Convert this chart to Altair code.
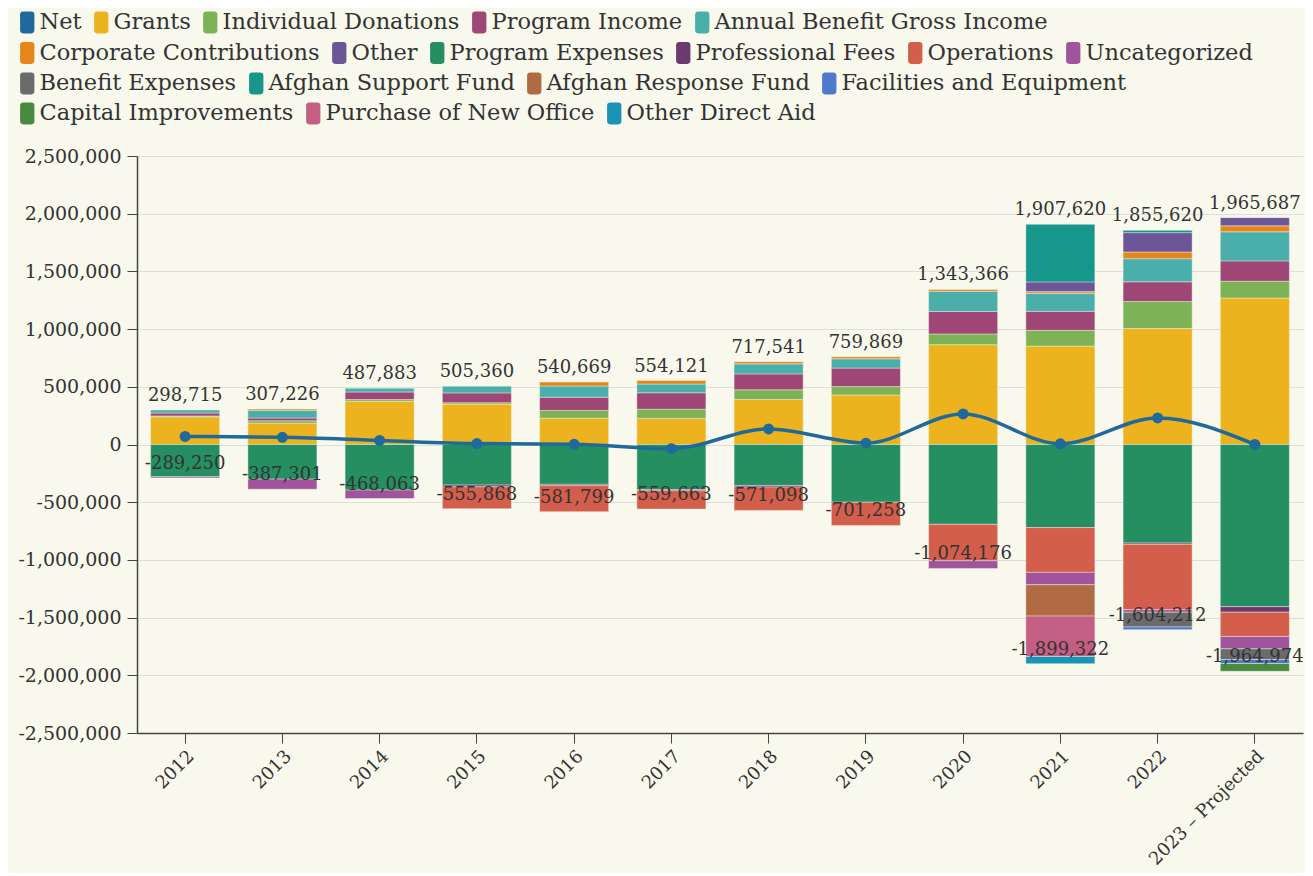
import altair as alt
import pandas as pd

years = ["2012", "2013", "2014", "2015", "2016", "2017", "2018", "2019",
         "2020", "2021", "2022", "2023 – Projected"]

categories = ["Net", "Grants", "Individual Donations", "Program Income",
              "Annual Benefit Gross Income", "Corporate Contributions", "Other",
              "Program Expenses", "Professional Fees", "Operations", "Uncategorized",
              "Benefit Expenses", "Afghan Support Fund", "Afghan Response Fund",
              "Facilities and Equipment", "Capital Improvements",
              "Purchase of New Office", "Other Direct Aid"]

colors = ["#1f6a9a", "#ecb31f", "#7db356", "#9e4676", "#4aaeab", "#e5861b",
          "#6c5698", "#268f62", "#6b3a6e", "#d35e4b", "#a0549c", "#6b6b6b",
          "#17968c", "#b06b44", "#4f7acb", "#4a8a3e", "#c45e82", "#1a93b6"]

# income (positive)
grants = [240000, 185000, 375000, 350000, 228000, 226000, 390000, 430000, 865000, 853000, 1005000, 1270000]
individual_donations = [8000, 20000, 15000, 12000, 67000, 80000, 84000, 72000, 93000, 136000, 234000, 145000]
program_income = [25000, 25000, 65000, 85000, 115000, 142000, 138000, 160000, 195000, 165000, 171000, 176000]
annual_benefit = [25715, 66226, 32883, 58360, 97000, 76000, 87000, 80000, 175000, 156000, 200000, 252000]
corporate = [0, 11000, 0, 0, 33669, 30121, 18541, 17869, 15366, 15000, 58000, 52000]
other = [0, 0, 0, 0, 0, 0, 0, 0, 0, 84000, 168000, 70687]
afghan_support = [0, 0, 0, 0, 0, 0, 0, 0, 0, 498620, 19620, 0]

# expenses (negative)
program_expenses = [-280000, -300000, -395000, -352000, -345000, -390000, -355000, -500000, -692000, -720000, -854000, -1405000]
professional_fees = [0, 0, 0, -15000, -12000, -11000, -14000, 0, 0, 0, -11000, -48000]
operations = [0, 0, 0, -188868, -224799, -158663, -202098, -201258, -316000, -388000, -567000, -210000]
uncategorized = [-9250, -87301, -73063, 0, 0, 0, 0, 0, -66176, -107000, -22000, -108000]
benefit_expenses = [0, 0, 0, 0, 0, 0, 0, 0, 0, 0, -127000, -92000]
afghan_response = [0, 0, 0, 0, 0, 0, 0, 0, 0, -272000, 0, 0]
facilities = [0, 0, 0, 0, 0, 0, 0, 0, 0, 0, -23212, -35000]
capital = [0, 0, 0, 0, 0, 0, 0, 0, 0, 0, 0, -66974]
purchase_office = [0, 0, 0, 0, 0, 0, 0, 0, 0, -350000, 0, 0]
other_direct_aid = [0, 0, 0, 0, 0, 0, 0, 0, 0, -62322, 0, 0]

net = [70000, 62000, 35000, 8000, 2000, -36000, 135000, 12000, 265000, 6000, 230000, 713]

series = {
    "Grants": grants,
    "Individual Donations": individual_donations,
    "Program Income": program_income,
    "Annual Benefit Gross Income": annual_benefit,
    "Corporate Contributions": corporate,
    "Other": other,
    "Program Expenses": program_expenses,
    "Professional Fees": professional_fees,
    "Operations": operations,
    "Uncategorized": uncategorized,
    "Benefit Expenses": benefit_expenses,
    "Afghan Support Fund": afghan_support,
    "Afghan Response Fund": afghan_response,
    "Facilities and Equipment": facilities,
    "Capital Improvements": capital,
    "Purchase of New Office": purchase_office,
    "Other Direct Aid": other_direct_aid,
}

rows = []
for cat, vals in series.items():
    for y, v in zip(years, vals):
        if v != 0:
            rows.append({"year": y, "category": cat, "value": v, "idx": categories.index(cat)})
long_df = pd.DataFrame(rows)

pos_tot = [sum(series[c][i] for c in series if series[c][i] > 0) for i in range(len(years))]
neg_tot = [sum(series[c][i] for c in series if series[c][i] < 0) for i in range(len(years))]
tot_df = pd.DataFrame({
    "year": years,
    "pos": pos_tot,
    "neg": neg_tot,
    "pos_label": [f"{v:,}" for v in pos_tot],
    "neg_label": [f"{v:,}" for v in neg_tot],
})
net_df = pd.DataFrame({"year": years, "net": net})

FONT = "DejaVu Serif"
TXT = "#333333"
BG = "#f8f8ec"

x_enc = alt.X("year:N", sort=years, title=None,
              scale=alt.Scale(paddingInner=0.29, paddingOuter=0.14),
              axis=alt.Axis(labelAngle=-45, labelFontSize=18, labelFont=FONT,
                            labelColor=TXT, tickSize=10, labelPadding=4))
y_scale = alt.Scale(domain=[-2500000, 2500000], nice=False)
y_axis = alt.Axis(values=list(range(-2500000, 2500001, 500000)), format=",d",
                  labelExpr="replace(datum.label, '\u2212', '-')",
                  labelFontSize=19, labelFont=FONT, labelColor=TXT, tickSize=10,
                  labelPadding=6, grid=True)

bars = alt.Chart(long_df).mark_bar(stroke=BG, strokeWidth=0.6, strokeOpacity=0.7).encode(
    x=x_enc,
    y=alt.Y("value:Q", stack="zero", scale=y_scale, axis=y_axis, title=None),
    color=alt.Color("category:N", scale=alt.Scale(domain=categories, range=colors), legend=None),
    order=alt.Order("idx:Q"),
)

line = alt.Chart(net_df).mark_line(interpolate="monotone", strokeWidth=3.5, color=colors[0]).encode(
    x=alt.X("year:N", sort=years),
    y=alt.Y("net:Q"),
)
pts = alt.Chart(net_df).mark_circle(size=120, opacity=1, color=colors[0]).encode(
    x=alt.X("year:N", sort=years),
    y=alt.Y("net:Q"),
)

pos_text = alt.Chart(tot_df).mark_text(baseline="bottom", dy=-5, fontSize=18, font=FONT, color=TXT).encode(
    x=alt.X("year:N", sort=years), y=alt.Y("pos:Q"), text="pos_label:N")
neg_text = alt.Chart(tot_df).mark_text(baseline="bottom", dy=-5, fontSize=18, font=FONT, color=TXT).encode(
    x=alt.X("year:N", sort=years), y=alt.Y("neg:Q"), text="neg_label:N")

SYM = "M-0.35,-1 L0.35,-1 Q0.65,-1 0.65,-0.7 L0.65,0.7 Q0.65,1 0.35,1 L-0.35,1 Q-0.65,1 -0.65,0.7 L-0.65,-0.7 Q-0.65,-1 -0.35,-1 Z"

legend_rows = [
    categories[0:5],
    categories[5:11],
    categories[11:15],
    categories[15:18],
]
legend_y = [-145, -114.5, -84, -54]

legend_layers = []
for r, (subset, ly) in enumerate(zip(legend_rows, legend_y)):
    sub_colors = [colors[categories.index(c)] for c in subset]
    ldf = pd.DataFrame({"name": subset})
    legend_layers.append(
        alt.Chart(ldf).mark_square(size=0, filled=True).encode(
            x=alt.value(0), y=alt.value(0),
            color=alt.Color("name:N", scale=alt.Scale(domain=subset, range=sub_colors),
                            legend=alt.Legend(orient="none", legendX=-121, legendY=ly,
                                              direction="horizontal", title=None,
                                              symbolType=SYM, symbolSize=484,
                                              symbolStrokeWidth=0, symbolOpacity=1,
                                              labelFont=FONT, labelFontSize=22.5,
                                              labelColor=TXT, labelLimit=600,
                                              labelOffset=1, columnPadding=8,
                                              padding=0))
        )
    )

chart = alt.layer(bars, line, pts, pos_text, neg_text, *legend_layers).resolve_scale(
    color="independent"
).properties(
    width=1166, height=577,
    autosize=alt.AutoSizeParams(type="none"),
    padding={"left": 129, "top": 148, "right": 2, "bottom": 140},
    background=BG,
).configure_view(stroke=None).configure_axis(
    domainColor="#444444", domainWidth=1.5, tickColor="#444444",
    gridColor="#dddddd", gridWidth=1,
)

chart.save("out.html", embed_options={"renderer": "svg", "actions": False})
